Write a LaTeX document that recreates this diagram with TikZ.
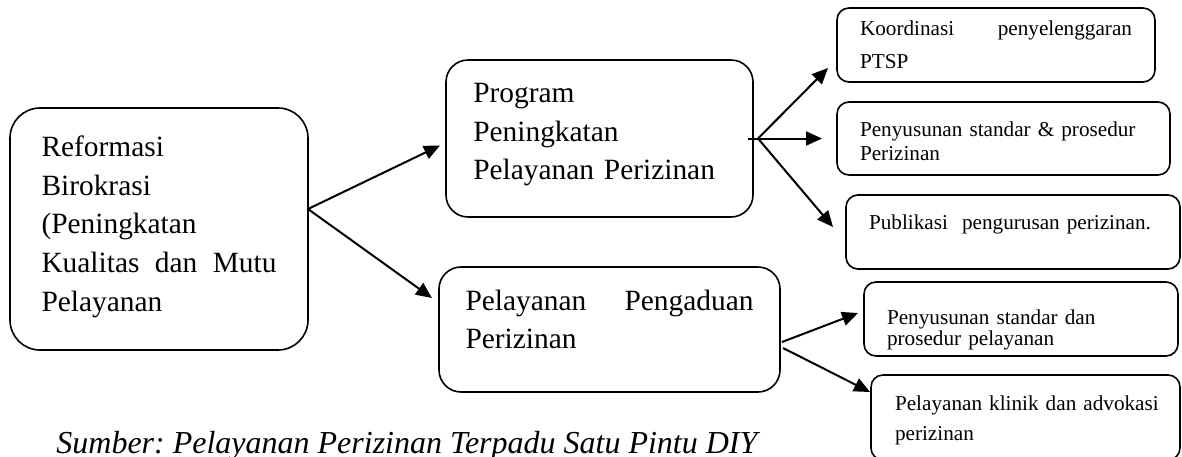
\documentclass[tikz,border=0pt]{standalone}
\usepackage{fontspec}
\setmainfont{Liberation Serif}
\usetikzlibrary{arrows.meta}
\frenchspacing
\begin{document}
\begin{tikzpicture}[x=0.5pt,y=-0.5pt,
	kotak/.style={draw,line width=0.8pt,outer sep=0pt,inner ysep=0pt,anchor=north west,align=left},
	besar/.style={kotak,rounded corners=11pt,font=\fontsize{14.7}{19.3}\selectfont},
	kecil/.style={kotak,rounded corners=6pt,inner xsep=11.5pt},
	panah/.style={line width=1pt,-{Triangle[length=8pt,width=7pt]}}]
	\useasboundingbox (0,0) rectangle (1182,456);
	\node[besar,rounded corners=15pt,inner xsep=15.75pt,text width=117.5pt,text height=24.3pt,text depth=96.7pt] (reform) at (10,108) {Reformasi\\Birokrasi\\(Peningkatan\\Kualitas\hfill dan\hfill Mutu\\Pelayanan};
	\node[besar,inner xsep=13.65pt,text width=126.2pt,text height=21.3pt,text depth=57.2pt] (prog) at (446,60) {Program\\Peningkatan\\Pelayanan Perizinan};
	\node[besar,inner xsep=13.25pt,text width=144pt,text height=21.5pt,text depth=41pt] (aduan) at (439,267) {Pelayanan\hfill Pengaduan\\Perizinan};
	\node[kecil,text width=136pt,text height=13.85pt,text depth=23.15pt,font=\fontsize{10.6}{16.5}\selectfont] (koord) at (837,8) {Koordinasi\hfill penyelenggaran\\PTSP};
	\node[kecil,text width=143.5pt,text height=17.35pt,text depth=19.15pt,font=\fontsize{10.6}{11.65}\selectfont] (susun) at (837,102) {Penyusunan standar \& prosedur\\Perizinan};
	\node[kecil,text width=144pt,text height=17pt,text depth=20pt,font=\fontsize{10.6}{12}\selectfont] (publik) at (846,195) {Publikasi~ pengurusan perizinan.};
	\node[kecil,text width=134pt,text height=21pt,text depth=16pt,font=\fontsize{10.6}{8.35}\selectfont] (standar) at (864,282) {\lineskiplimit-20pt\relax Penyusunan standar dan\\prosedur pelayanan};
	\node[kecil,inner xsep=12pt,text width=130.5pt,text height=17.5pt,text depth=25pt,font=\fontsize{10.6}{15}\selectfont] (klinik) at (871,375) {\mbox{Pelayanan klinik dan advokasi}\\perizinan};
	\node[anchor=base west,inner sep=0pt,font=\fontsize{16}{19}\selectfont\itshape] (sumber) at (56,453) {Sumber: Pelayanan Perizinan Terpadu Satu Pintu DIY};
	\coordinate (cabang) at ([xshift=2.5pt]prog.east);
	\draw[panah] ([yshift=10pt]reform.east) -- ([xshift=-3pt,yshift=-3.5pt]prog.west);
	\draw[panah] ([yshift=10pt]reform.east) -- ([xshift=-3.5pt,yshift=15.75pt]aduan.west);
	\draw[line width=1pt] ([xshift=-2.5pt]prog.east) -- (cabang);
	\draw[panah] (cabang) -- ([xshift=-4.5pt,yshift=7pt]koord.south west);
	\draw[panah] (cabang) -- ([xshift=-7.5pt]susun.west);
	\draw[panah] (cabang) -- ([xshift=-6.5pt,yshift=2.5pt]publik.west);
	\draw[panah] ([xshift=1pt,yshift=-6.25pt]aduan.east) -- ([xshift=-3pt,yshift=3pt]standar.west);
	\draw[panah] ([xshift=1.5pt,yshift=-9.25pt]aduan.east) -- ([xshift=-0.5pt,yshift=-8.5pt]klinik.north west);
\end{tikzpicture}
\end{document}
